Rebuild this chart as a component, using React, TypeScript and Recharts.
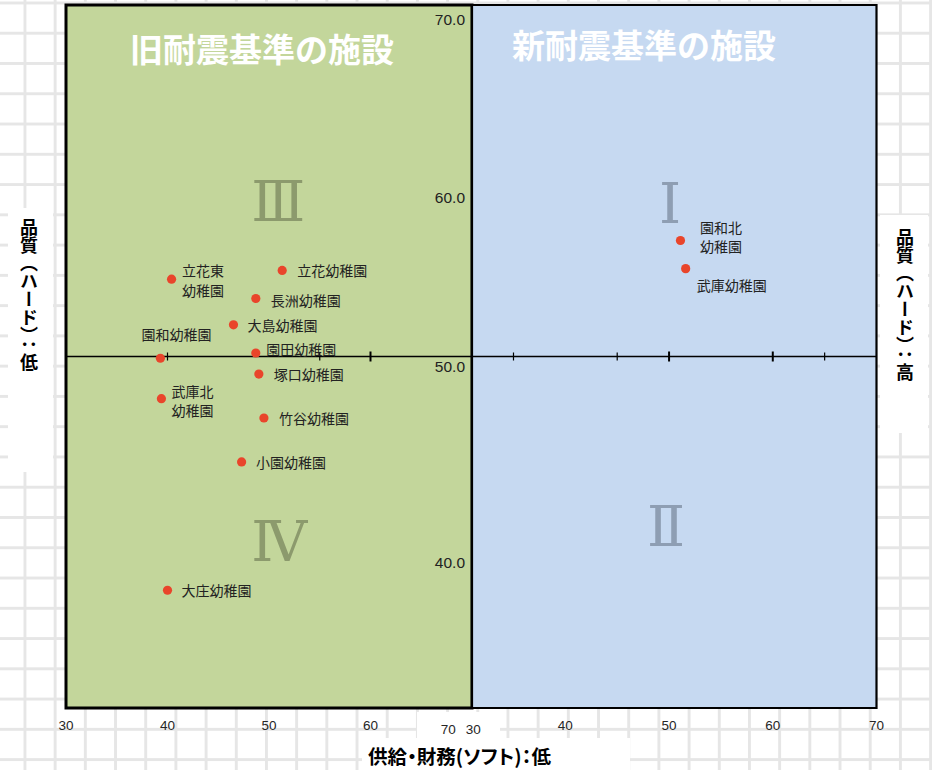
import React from 'react'
import { ScatterChart, Scatter, XAxis, YAxis, ReferenceArea, ReferenceLine } from 'recharts'

// 旧耐震基準の施設 (left panel)
const oldNames = [
  '立花東幼稚園',
  '立花幼稚園',
  '長洲幼稚園',
  '大島幼稚園',
  '園和幼稚園',
  '園田幼稚園',
  '塚口幼稚園',
  '武庫北幼稚園',
  '竹谷幼稚園',
  '小園幼稚園',
  '大庄幼稚園'
]
const oldSoft = [40.4, 51.3, 48.7, 46.5, 39.3, 48.7, 49.0, 39.4, 49.5, 47.3, 40.0]
const oldHard = [54.4, 54.9, 53.3, 51.8, 49.9, 50.2, 49.0, 47.6, 46.5, 44.0, 36.7]

// 新耐震基準の施設 (right panel)
const newNames = ['園和北幼稚園', '武庫幼稚園']
const newSoft = [51.1, 51.6]
const newHard = [56.6, 55.0]

const leftXTicks = [30, 40, 50, 60]
const rightXTicks = [40, 50, 60, 70]
const yTicks = [40, 50, 60, 70]
const leftMarks = [40, 55, 60]
const rightMarks = [35, 45, 50, 60, 65]

const leftQuadNames = ['Ⅲ', 'Ⅳ']
const leftQuadSoft = [50.9, 51.0]
const leftQuadHard = [58.8, 39.5]
const rightQuadNames = ['Ⅰ', 'Ⅱ']
const rightQuadSoft = [50.1, 49.7]
const rightQuadHard = [58.7, 40.3]

const latin = "'Liberation Sans', Arial, sans-serif"
const jp = "'Noto Sans CJK JP', 'Noto Sans', sans-serif"

const oldPoints = oldNames.map((name, i) => ({ name, soft: oldSoft[i], hard: oldHard[i] }))
const newPoints = newNames.map((name, i) => ({ name, soft: newSoft[i], hard: newHard[i] }))
const leftQuads = leftQuadNames.map((name, i) => ({ name, soft: leftQuadSoft[i], hard: leftQuadHard[i] }))
const rightQuads = rightQuadNames.map((name, i) => ({ name, soft: rightQuadSoft[i], hard: rightQuadHard[i] }))
const leftMarkPts = leftMarks.map(v => ({ soft: v, hard: 50 }))
const rightMarkPts = rightMarks.map(v => ({ soft: v, hard: 50 }))

// where each name label sits relative to its dot
const labelLayout: Record<string, { dx: number; dy: number; split?: number }> = {
  '立花東幼稚園': { dx: 10.5, dy: -9, split: 3 },
  '立花幼稚園': { dx: 15, dy: 0 },
  '長洲幼稚園': { dx: 15, dy: 1 },
  '大島幼稚園': { dx: 14, dy: 0 },
  '園和幼稚園': { dx: -19, dy: -24 },
  '園田幼稚園': { dx: 10.5, dy: -4 },
  '塚口幼稚園': { dx: 15, dy: 0 },
  '武庫北幼稚園': { dx: 10, dy: -8, split: 3 },
  '竹谷幼稚園': { dx: 15, dy: 0 },
  '小園幼稚園': { dx: 14.5, dy: 0 },
  '大庄幼稚園': { dx: 14, dy: 0 },
  '園和北幼稚園': { dx: 19.5, dy: -14, split: 3 },
  '武庫幼稚園': { dx: 11, dy: 16 }
}

const yNudge: Record<number, number> = { 70: 14.5, 60: 16.5, 50: 10, 40: 30.5 }
const boldMarks = [50, 60]

const PointShape = (props: any) => {
  const { cx, cy, payload } = props
  const lay = labelLayout[payload.name] ?? { dx: 14, dy: 0 }
  const lines: string[] = lay.split
    ? [payload.name.slice(0, lay.split), payload.name.slice(lay.split)]
    : [payload.name]
  return (
    <g>
      <circle cx={cx} cy={cy} r={4.6} fill="#e9452b" />
      {lines.map((t, i) => (
        <text
          key={i}
          x={cx + lay.dx}
          y={cy + lay.dy + i * 19.5}
          dominantBaseline="central"
          fontSize={14}
          fill="#222"
          fontFamily={jp}
        >
          {t}
        </text>
      ))}
    </g>
  )
}

const makeQuadShape = (color: string) => (props: any) => (
  <text
    x={props.cx}
    y={props.cy}
    textAnchor="middle"
    dominantBaseline="central"
    fontSize={56}
    fill={color}
    fontFamily="'DejaVu Serif', 'Liberation Serif', serif"
  >
    {props.payload.name}
  </text>
)

const MarkShape = (props: any) => {
  const bold = boldMarks.includes(props.payload.soft)
  const h = bold ? 5 : 4
  return (
    <line
      x1={props.cx}
      x2={props.cx}
      y1={props.cy - h}
      y2={props.cy + h}
      stroke="#000"
      strokeWidth={bold ? 2 : 1.2}
    />
  )
}

const XTick = (props: any) => (
  <text
    x={props.x}
    y={props.y + 17}
    textAnchor="middle"
    dominantBaseline="central"
    fontSize={13.5}
    fill="#262626"
    fontFamily={latin}
  >
    {props.payload.value}
  </text>
)

const YTick = (props: any) => (
  <text
    x={props.x}
    y={props.y + (yNudge[props.payload.value] ?? 0)}
    textAnchor="end"
    dominantBaseline="central"
    fontSize={15.5}
    fill="#222"
    fontFamily={latin}
  >
    {Number(props.payload.value).toFixed(1)}
  </text>
)

const whiteBox = (left: number, top: number, width: number, height: number) => (
  <div style={{ position: 'absolute', left, top, width, height, background: '#fff' }} />
)

export default function App() {
  return (
    <div
      style={{
        position: 'absolute',
        left: 0,
        top: 0,
        width: 932,
        height: 770,
        overflow: 'hidden',
        backgroundColor: '#fff',
        backgroundImage:
          'linear-gradient(90deg, #e6e6e6 3px, transparent 3px), linear-gradient(180deg, #e6e6e6 3px, transparent 3px)',
        backgroundSize: '30.2px 30.28px',
        backgroundPosition: '23.5px 1.5px'
      }}
    >
      {whiteBox(8, 208, 45, 264)}
      {whiteBox(880, 215, 48, 218)}
      {whiteBox(362, 738, 268, 32)}

      <div style={{ position: 'absolute', left: 0, top: 0 }}>
        <ScatterChart width={932} height={770} margin={{ top: 5, right: 460, bottom: 32, left: 66 }}>
          <ReferenceArea x1={30} x2={70} y1={30} y2={70} fill="#c3d69b" fillOpacity={1} stroke="#000" strokeWidth={3} />
          <ReferenceLine y={50} stroke="#000" strokeWidth={1.6} />
          <XAxis
            type="number"
            dataKey="soft"
            domain={[30, 70]}
            ticks={leftXTicks}
            interval={0}
            axisLine={false}
            tickLine={false}
            tickSize={0}
            tickMargin={0}
            height={30}
            tick={<XTick />}
          />
          <YAxis type="number" dataKey="hard" domain={[30, 70]} hide />
          <Scatter data={leftMarkPts} shape={MarkShape} isAnimationActive={false} />
          <Scatter data={leftQuads} shape={makeQuadShape('#8c9a6d')} isAnimationActive={false} />
          <Scatter data={oldPoints} shape={PointShape} isAnimationActive={false} />
        </ScatterChart>
      </div>

      <div style={{ position: 'absolute', left: 0, top: 0 }}>
        <ScatterChart width={932} height={770} margin={{ top: 5, right: 55.5, bottom: 32, left: 471 }}>
          <ReferenceArea x1={31} x2={70} y1={30} y2={70} fill="#c6d9f1" fillOpacity={1} stroke="#000" strokeWidth={2.2} />
          <ReferenceLine y={50} stroke="#000" strokeWidth={1.6} />
          <XAxis
            type="number"
            dataKey="soft"
            domain={[31, 70]}
            ticks={rightXTicks}
            interval={0}
            axisLine={false}
            tickLine={false}
            tickSize={0}
            tickMargin={0}
            height={30}
            tick={<XTick />}
          />
          {/* shared vertical axis, its labels sit just left of the joint */}
          <YAxis
            type="number"
            dataKey="hard"
            domain={[30, 70]}
            ticks={yTicks}
            interval={0}
            orientation="left"
            width={1}
            axisLine={false}
            tickLine={false}
            tickSize={0}
            tickMargin={7}
            tick={<YTick />}
          />
          <Scatter data={rightMarkPts} shape={MarkShape} isAnimationActive={false} />
          <Scatter data={rightQuads} shape={makeQuadShape('#8e9eb3')} isAnimationActive={false} />
          <Scatter data={newPoints} shape={PointShape} isAnimationActive={false} />
        </ScatterChart>
      </div>

      {/* panel titles */}
      <div
        style={{
          position: 'absolute', left: 130, top: 31.5, fontSize: 33, lineHeight: '33px',
          fontWeight: 700, color: '#fff', fontFamily: jp, whiteSpace: 'nowrap'
        }}
      >
        旧耐震基準の施設
      </div>
      <div
        style={{
          position: 'absolute', left: 512, top: 27.5, fontSize: 33, lineHeight: '33px',
          fontWeight: 700, color: '#fff', fontFamily: jp, whiteSpace: 'nowrap'
        }}
      >
        新耐震基準の施設
      </div>

      {/* text box covering the panel joint */}
      <div style={{ position: 'absolute', left: 417, top: 712, width: 83, height: 26, background: '#fff' }}>
        {[['70', 31.3], ['30', 56.3]].map(([t, cx]) => (
          <span
            key={t as string}
            style={{
              position: 'absolute', left: cx as number, top: 10, transform: 'translateX(-50%)',
              fontSize: 13.5, lineHeight: '16px', color: '#262626', fontFamily: latin
            }}
          >
            {t}
          </span>
        ))}
      </div>

      {/* axis titles */}
      <div
        style={{
          position: 'absolute', left: 368, top: 746, fontSize: 19.5, lineHeight: '19px', fontWeight: 700,
          color: '#000', fontFamily: jp, whiteSpace: 'nowrap', fontFeatureSettings: "'palt'"
        }}
      >
        供給・財務(ソフト)：低
      </div>
      <div
        style={{
          position: 'absolute', left: 20, top: 218, fontSize: 18, lineHeight: '18px', fontWeight: 700,
          color: '#000', fontFamily: jp, writingMode: 'vertical-rl', whiteSpace: 'nowrap'
        }}
      >
        品質（ハード）：低
      </div>
      <div
        style={{
          position: 'absolute', left: 896, top: 228, fontSize: 18, lineHeight: '18px', fontWeight: 700,
          color: '#000', fontFamily: jp, writingMode: 'vertical-rl', whiteSpace: 'nowrap'
        }}
      >
        品質（ハード）：高
      </div>
    </div>
  )
}
